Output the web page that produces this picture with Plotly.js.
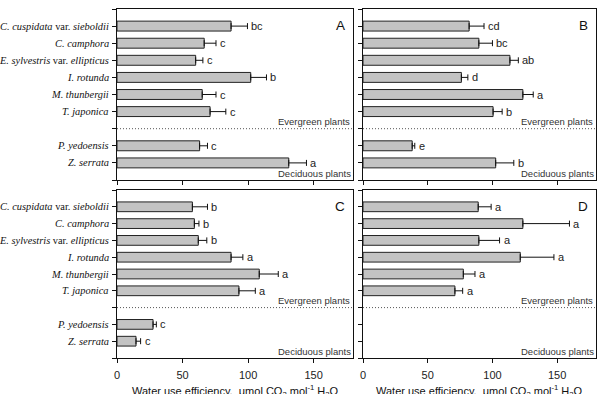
<!DOCTYPE html>
<html><head><meta charset="utf-8">
<script src="https://cdn.plot.ly/plotly-3.0.1.min.js"></script>
<style>html,body{margin:0;padding:0;background:#fff}#c{width:600px;height:394px}</style>
</head><body><div id="c"></div>
<script>
const categories = [
  "<i>C. cuspidata</i> var. <i>sieboldii</i>",
  "<i>C. camphora</i>",
  "<i>E. sylvestris</i> var. <i>ellipticus</i>",
  "<i>I. rotunda</i>",
  "<i>M. thunbergii</i>",
  "<i>T. japonica</i>",
  "<i>P. yedoensis</i>",
  "<i>Z. serrata</i>"
];
const groupOf = ["E","E","E","E","E","E","D","D"];

const meanA = [87, 66.5, 60, 102, 65, 71, 63, 131];
const seA   = [12.5, 9, 5.5, 12, 10.5, 12, 6, 13.5];
const letA  = ["bc","c","c","b","c","c","c","a"];

const meanB = [82, 89.5, 113.5, 76, 123.5, 100.5, 38, 102.5];
const seB   = [11.5, 10.5, 6.5, 5, 8, 7, 2, 14];
const letB  = ["cd","bc","ab","d","a","b","e","b"];

const meanC = [57.5, 59, 62, 87, 108.5, 93, 27.5, 14.5];
const seC   = [11.5, 3.5, 6.5, 9, 14.5, 12.5, 2.5, 3.5];
const letC  = ["b","b","b","a","a","a","c","c"];

const meanD = [89, 123.5, 89.5, 121.5, 77.5, 71, null, null];
const seD   = [10, 36, 16, 26, 9, 6, null, null];
const letD  = ["a","a","a","a","a","a","",""];

const xTicks = [0, 50, 100, 150];
const panelLetters = ["A","B","C","D"];
const groupLabels = ["Evergreen plants","Deciduous plants"];

// slot positions: evergreen 0..5, gap at 6, deciduous 7..8
const ypos = categories.map((c,i)=> groupOf[i]==="E" ? i : i+1);
const gapPos = 6;

const panels = [
  {m:meanA, s:seA, l:letA, xa:"x",  ya:"y",  lab:true},
  {m:meanB, s:seB, l:letB, xa:"x2", ya:"y2", lab:false},
  {m:meanC, s:seC, l:letC, xa:"x3", ya:"y3", lab:true},
  {m:meanD, s:seD, l:letD, xa:"x4", ya:"y4", lab:false}
];

const traces = [];
const annotations = [];
const shapes = [];
const SANS = "Liberation Sans, Arial, sans-serif";
const SERIF = "Liberation Serif, Times New Roman, serif";

panels.forEach((p, k) => {
  traces.push({
    type: "bar", orientation: "h",
    x: p.m, y: ypos, xaxis: p.xa, yaxis: p.ya,
    width: 0.58,
    marker: {color: "#c3c3c3", line: {color: "#222", width: 1}},
    error_x: {type: "data", symmetric: false, array: p.s,
              arrayminus: p.s.map(v => v == null ? null : 0),
              color: "#111", thickness: 1, width: 3},
    showlegend: false, hoverinfo: "none"
  });
  p.m.forEach((v, i) => {
    if (v == null) return;
    annotations.push({xref: p.xa, yref: p.ya, x: v + p.s[i], y: ypos[i],
      text: p.l[i], showarrow: false, xanchor: "left", xshift: 3, borderpad: 0,
      font: {family: SANS, size: 11, color: "#222"}});
  });
  if (p.lab) {
    categories.forEach((c, i) => {
      annotations.push({xref: p.xa + " domain", yref: p.ya, x: 0, y: ypos[i],
        text: c, showarrow: false, xanchor: "right", xshift: -6,
        font: {family: SERIF, size: 10.4, color: "#111"}});
    });
  }
  annotations.push({xref: p.xa + " domain", yref: p.ya + " domain", x: 0.975, y: 0.96,
    text: panelLetters[k], showarrow: false, xanchor: "right", yanchor: "top",
    font: {family: SANS, size: 13.5, color: "#111"}});
  annotations.push({xref: p.xa + " domain", yref: p.ya, x: 1, y: gapPos,
    text: groupLabels[0], showarrow: false, xanchor: "right", yanchor: "bottom", xshift: -1,
    font: {family: SANS, size: 9.5, color: "#333"}});
  annotations.push({xref: p.xa + " domain", yref: p.ya, x: 1, y: 9,
    text: groupLabels[1], showarrow: false, xanchor: "right", yanchor: "bottom", xshift: -1, yshift: 0,
    borderpad: 0, font: {family: SANS, size: 9.5, color: "#333"}});
  shapes.push({type: "line", xref: p.xa + " domain", yref: p.ya, x0: 0, x1: 1, y0: gapPos, y1: gapPos,
    line: {color: "#555", width: 1, dash: "1px,2px"}});
});

const title = "Water use efficiency,  μmol CO<sub>2</sub> mol<sup>-1</sup> H<sub>2</sub>O";
annotations.push({xref: "paper", yref: "paper", x: (117+353)/2/600, y: 1-382/394, text: title,
  showarrow: false, xanchor: "center", yanchor: "top", borderpad: 0, font: {family: SANS, size: 11, color: "#111"}});
annotations.push({xref: "paper", yref: "paper", x: (363+596)/2/600, y: 1-382/394, text: title,
  showarrow: false, xanchor: "center", yanchor: "top", borderpad: 0, font: {family: SANS, size: 11, color: "#111"}});

function xax(domain, labels) {
  return {domain, range: [0, 180], tickvals: xTicks, showticklabels: labels,
    ticks: "outside", ticklen: 4, tickcolor: "#111", showline: true, linecolor: "#111", linewidth: 1,
    mirror: true, showgrid: false, zeroline: false, fixedrange: true, ticklabelstandoff: 3,
    tickfont: {family: SANS, size: 11, color: "#222"}};
}
function yax(domain, anchor) {
  const tv = [];
  for (let v = -1; v <= 9; v++) tv.push(v);
  return {domain, range: [9, -1], tickvals: tv, showticklabels: false, anchor,
    ticks: "outside", ticklen: 4, tickcolor: "#111", showline: true, linecolor: "#111", linewidth: 1,
    mirror: true, showgrid: false, zeroline: false, fixedrange: true};
}

const xA = [117/600, 353/600], xB = [363/600, 596/600];
const yTop = [1-180/394, 1-9/394], yBot = [1-358/394, 1-190/394];

const layout = {
  width: 600, height: 394, margin: {l: 0, r: 0, t: 0, b: 0},
  paper_bgcolor: "#fff", plot_bgcolor: "#fff",
  xaxis:  Object.assign(xax(xA, false), {anchor: "y"}),
  xaxis2: Object.assign(xax(xB, false), {anchor: "y2"}),
  xaxis3: Object.assign(xax(xA, true),  {anchor: "y3"}),
  xaxis4: Object.assign(xax(xB, true),  {anchor: "y4"}),
  yaxis:  yax(yTop, "x"),
  yaxis2: yax(yTop, "x2"),
  yaxis3: yax(yBot, "x3"),
  yaxis4: yax(yBot, "x4"),
  annotations, shapes
};
Plotly.newPlot("c", traces, layout, {staticPlot: true});
</script></body></html>
